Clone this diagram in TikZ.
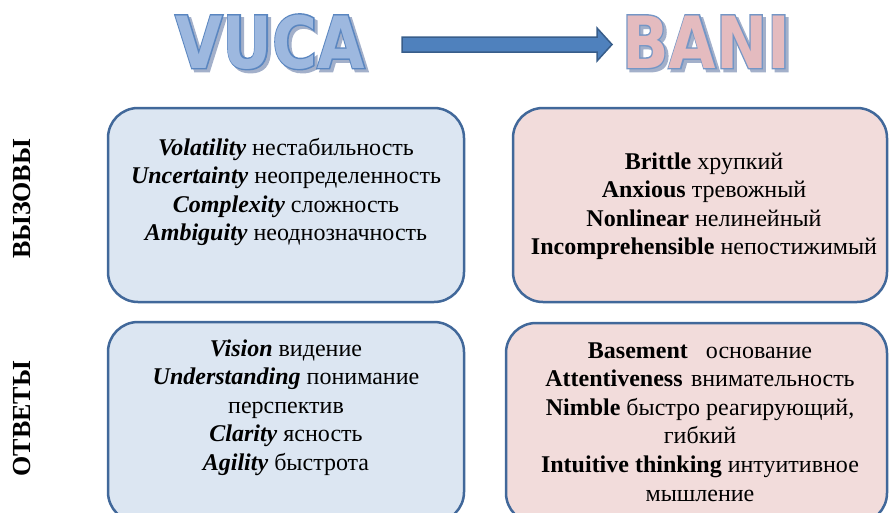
\documentclass[tikz,border=0pt]{standalone}
\usepackage{fontspec}
\setmainfont{Liberation Serif}
\newfontfamily\titlefont{DejaVu Sans Bold}
\newfontfamily\titleoutline{DejaVu Sans Bold}[FakeBold=4]
\definecolor{vucafill}{HTML}{9DB8DF}
\definecolor{vucaline}{HTML}{5A86C0}
\definecolor{banifill}{HTML}{E4BBBF}
\definecolor{baniline}{HTML}{7496C6}
\definecolor{shadowc}{HTML}{A3B0CA}
\definecolor{arrowfill}{HTML}{4F81BD}
\definecolor{arrowline}{HTML}{385D8A}
\definecolor{boxline}{HTML}{41689A}
\definecolor{bluebox}{HTML}{DCE6F2}
\definecolor{pinkbox}{HTML}{F2DCDB}
\begin{document}
\begin{tikzpicture}[x=1pt,y=-1pt,
  panel/.style={draw=boxline, line width=2.5pt, rounded corners=30pt, inner sep=0pt},
  bodytext/.style={align=center, inner sep=0pt, anchor=base, font=\fontsize{24}{28.6}\selectfont},
  sidelabel/.style={rotate=90, inner sep=0pt, font=\fontsize{26}{28}\selectfont\bfseries},
  titletext/.style={anchor=base, inner sep=0pt, xscale=0.85, font=\titlefont\fontsize{72}{80}\selectfont},
  titleedge/.style={anchor=base, inner sep=0pt, xscale=0.85, font=\titleoutline\fontsize{72}{80}\selectfont}]
\useasboundingbox (0,0) rectangle (889,512);
\clip (0,0) rectangle (889,512);
% titles
\node[titleedge, text=shadowc] (vucashadow) at (273,71) {VUCA};
\node[titleedge, text=vucaline] (vucaedge) at (270,68) {VUCA};
\node[titletext, text=vucafill] (vuca) at (270,68) {VUCA};
\node[titleedge, text=shadowc] (banishadow) at (709,71) {BANI};
\node[titleedge, text=baniline] (baniedge) at (706,68) {BANI};
\node[titletext, text=banifill] (bani) at (706,68) {BANI};
% block arrow
\draw[fill=arrowfill, draw=arrowline, line width=1.5pt, line join=miter]
  (402,37) -- (597,37) -- (597,28) -- (612,44.5) -- (597,61) -- (597,52) -- (402,52) -- cycle;
% panels
\node[panel, fill=bluebox, minimum width=356pt, minimum height=194pt] (b1) at (286,205) {};
\node[panel, fill=pinkbox, minimum width=374pt, minimum height=194pt] (b2) at (700,205) {};
\node[panel, fill=bluebox, minimum width=356pt, minimum height=200pt] (b3) at (286,422) {};
\node[panel, fill=pinkbox, minimum width=381pt, minimum height=200pt] (b4) at (696.5,423) {};
% side labels
\node[sidelabel] (l1) at (22,199) {ВЫЗОВЫ};
\node[sidelabel] (l2) at (22,419) {ОТВЕТЫ};
% texts (anchor base = baseline of the last line)
\node[bodytext] (t1) at (286,240.8) {\textbf{\textit{Volatility}} нестабильность\\
\textbf{\textit{Uncertainty}} неопределенность\\
\textbf{\textit{Complexity}} сложность\\
\textbf{\textit{Ambiguity}} неоднозначность};
\node[bodytext] (t2) at (704,254.8) {\textbf{Brittle} хрупкий\\
\textbf{Anxious} тревожный\\
\textbf{Nonlinear} нелинейный\\
\textbf{Incomprehensible} непостижимый};
\node[bodytext] (t3) at (286,470.4) {\textbf{\textit{Vision}} видение\\
\textbf{\textit{Understanding}} понимание\\
перспектив\\
\textbf{\textit{Clarity}} ясность\\
\textbf{\textit{Agility}} быстрота};
\node[bodytext] (t4) at (700,501) {\textbf{Basement}\hspace{0.75em}основание\\
\textbf{Attentiveness}\hspace{0.35em}внимательность\\
\textbf{Nimble} быстро реагирующий,\\
гибкий\\
\textbf{Intuitive thinking} интуитивное\\
мышление};
\end{tikzpicture}
\end{document}
